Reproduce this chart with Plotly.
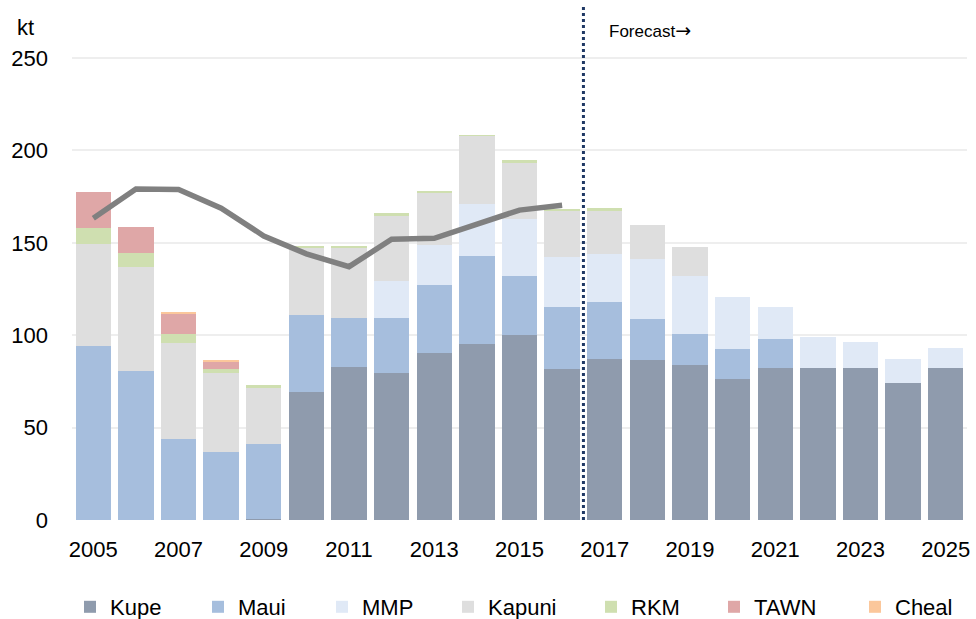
import plotly.graph_objects as go

# Annual production by field, kt (2017 onward is forecast)
years = list(range(2005, 2026))

kupe = [0, 0, 0, 0, 0.8, 69.4, 82.8, 79.5, 90.4, 95.2, 99.9, 81.7, 87.1, 86.6,
        84.1, 76.5, 82.3, 82.3, 82.3, 74.3, 82.3]
maui = [94.3, 80.6, 43.8, 37.0, 40.2, 41.5, 26.5, 29.8, 36.9, 47.5, 32.1, 33.4,
        30.9, 22.2, 16.5, 15.9, 15.8, 0, 0, 0, 0]
mmp = [0, 0, 0, 0, 0, 0, 0, 19.9, 21.3, 28.1, 30.7, 27.2, 25.9, 32.3, 31.6,
       28.1, 17.2, 16.6, 14.2, 12.8, 10.8]
kapuni = [54.9, 56.3, 52.0, 42.5, 30.6, 36.5, 38.1, 35.3, 28.2, 37.0, 30.9,
          25.4, 23.3, 18.5, 15.7, 0, 0, 0, 0, 0, 0]
rkm = [8.6, 7.6, 4.8, 2.2, 1.4, 0.9, 1.0, 1.5, 1.1, 0.5, 1.0, 0.6, 1.8, 0, 0,
       0, 0, 0, 0, 0, 0]
tawn = [19.7, 13.9, 11.2, 4.0, 0, 0, 0, 0, 0, 0, 0, 0, 0, 0, 0, 0, 0, 0, 0, 0, 0]
cheal = [0, 0, 0.6, 0.5, 0, 0, 0, 0, 0, 0, 0, 0, 0, 0, 0, 0, 0, 0, 0, 0, 0]

# Historical total line
line_years = list(range(2005, 2017))
line_total = [163.3, 179.1, 178.8, 168.7, 153.7, 144.0, 137.1, 151.9, 152.4,
              160.2, 167.7, 170.3]

forecast_start = 2016.5

series = [
    ("Kupe", kupe, "#8f9bad"),
    ("Maui", maui, "#a6bedd"),
    ("MMP", mmp, "#e0e9f6"),
    ("Kapuni", kapuni, "#dedede"),
    ("RKM", rkm, "#cfdfb0"),
    ("TAWN", tawn, "#dfa7a7"),
    ("Cheal", cheal, "#fbc79b"),
]

# left edge of each legend entry's text, in pixels
legend_text_px = [107, 235, 359, 485, 628, 751, 892]

W, H = 976, 619
ML, MR, MT, MB = 72, 6, 6, 99
plot_w = W - ML - MR
plot_h = H - MT - MB
px_per_kt = (520 - 58) / 250.0
y_top = plot_h / px_per_kt

font_family = "Liberation Sans, Arial, sans-serif"
FS = 22

fig = go.Figure()

legend_layouts = {}
for i, (name, vals, color) in enumerate(series):
    lid = "legend" if i == 0 else f"legend{i + 1}"
    fig.add_trace(go.Bar(
        x=years, y=vals, name=name,
        marker=dict(color=color, line=dict(width=0)),
        legend=lid,
    ))
    legend_layouts[lid] = dict(
        xref="container", yref="container",
        x=(legend_text_px[i] - 37) / W,
        y=(H - 607) / H,
        xanchor="left", yanchor="middle",
        orientation="h",
        bgcolor="rgba(0,0,0,0)",
        borderwidth=0,
        font=dict(family=font_family, size=FS, color="black"),
    )

fig.add_trace(go.Scatter(
    x=line_years, y=line_total, mode="lines", name="Total",
    line=dict(color="#808080", width=5.5),
    showlegend=False,
))

fig.add_shape(
    type="line", xref="x", yref="y",
    x0=forecast_start, x1=forecast_start, y0=0, y1=y_top - 0.5,
    line=dict(color="#1f3864", width=3, dash="dot"),
    layer="above",
)

fig.add_annotation(
    x=(609 - ML) / plot_w, y=(520 - 30) / plot_h, xref="paper", yref="paper",
    text="Forecast<span style=\"font-family:DejaVu Sans;font-size:19px\">\u2192</span>",
    showarrow=False, xanchor="left", yanchor="middle",
    font=dict(family=font_family, size=17, color="black"),
)
fig.add_annotation(
    x=(15 - ML) / plot_w, y=(520 - 28) / plot_h, xref="paper", yref="paper",
    text="kt", showarrow=False, xanchor="left", yanchor="middle",
    font=dict(family=font_family, size=FS, color="black"),
)

fig.update_layout(
    width=W, height=H,
    margin=dict(l=ML, r=MR, t=MT, b=MB, pad=0),
    barmode="stack",
    bargap=0.17,
    plot_bgcolor="white",
    paper_bgcolor="white",
    showlegend=True,
    **legend_layouts,
)

fig.update_xaxes(
    range=[2004.5, 2025.5],
    tickvals=list(range(2005, 2026, 2)),
    showgrid=False, zeroline=False, showline=False, ticks="",
    tickfont=dict(family=font_family, size=FS, color="black"),
    ticklabelstandoff=14,
    ticklabeloverflow="allow",
)
fig.update_yaxes(
    range=[0, y_top],
    tickvals=[0, 50, 100, 150, 200, 250],
    showgrid=True, gridcolor="#eeeeee", gridwidth=2,
    zeroline=False, showline=False, ticks="",
    tickfont=dict(family=font_family, size=FS, color="black"),
    ticklabelstandoff=23,
)

fig.write_html("out.html")
